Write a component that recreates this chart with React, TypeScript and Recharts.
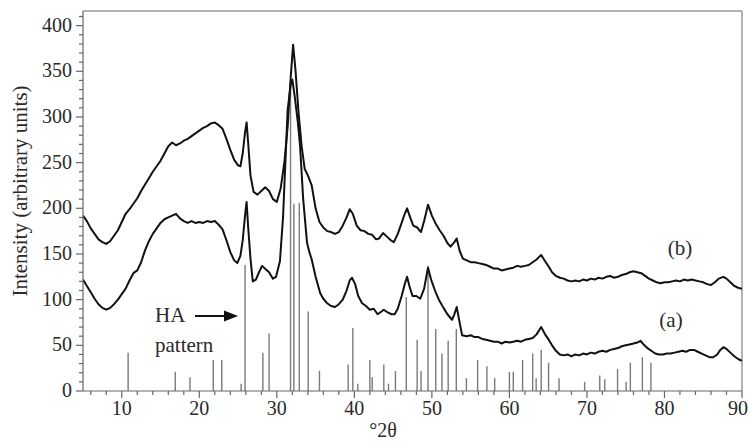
import { ComposedChart, Line, XAxis, YAxis, ReferenceLine } from "recharts"

// sample (b), upper trace: [°2θ, intensity]
const curveB: [number, number][] = [
  [5, 192], [5.5, 186], [6, 178], [6.5, 172], [7, 166], [7.5, 163], [8, 161], [8.5, 164], [9, 170], [9.5, 176],
  [10, 185], [10.5, 194], [11, 199], [11.5, 205], [12, 211], [12.5, 219], [13, 226], [13.5, 233], [14, 240], [14.5, 246],
  [15, 252], [15.5, 260], [16, 268], [16.5, 272], [17, 269], [17.5, 271], [18, 274], [18.5, 276], [19, 279], [19.5, 282],
  [20, 285], [20.5, 288], [21, 290], [21.5, 293], [22, 294], [22.5, 291], [23, 287], [23.5, 276], [24, 264], [24.5, 253],
  [25, 247], [25.3, 246], [25.6, 260], [25.9, 283], [26.1, 294], [26.3, 272], [26.6, 236], [27, 218], [27.5, 215], [28, 219],
  [28.5, 223], [29, 219], [29.5, 210], [30, 207], [30.5, 222], [31, 252], [31.4, 290], [31.8, 345], [32.1, 379], [32.4, 352],
  [32.8, 305], [33.2, 268], [33.6, 243], [34, 236], [34.5, 225], [35, 200], [35.5, 185], [36, 179], [36.5, 175], [37, 174],
  [37.5, 172], [38, 174], [38.5, 181], [39, 190], [39.4, 199], [39.8, 194], [40.3, 181], [40.8, 176], [41.3, 175], [41.8, 172],
  [42.3, 171], [42.8, 166], [43.2, 167], [43.7, 173], [44.2, 169], [44.7, 165], [45.1, 163], [45.6, 172], [46.1, 184], [46.5, 194],
  [46.8, 200], [47.2, 190], [47.6, 181], [48.1, 179], [48.6, 174], [49, 186], [49.5, 204], [50, 192], [50.5, 183], [51, 176],
  [51.5, 170], [52, 162], [52.4, 158], [52.9, 163], [53.2, 167], [53.6, 153], [54, 145], [54.5, 143], [55, 141], [55.5, 141],
  [56, 140], [56.5, 139], [57, 138], [57.5, 136], [58, 134], [58.5, 134], [59, 132], [59.5, 133], [60, 134], [60.5, 135],
  [61, 137], [61.5, 136], [62, 137], [62.5, 138], [63, 141], [63.5, 144], [64.1, 149], [64.6, 142], [65, 137], [65.5, 130],
  [66, 126], [66.5, 124], [67, 123], [67.5, 121], [68, 120], [68.5, 121], [69, 120], [69.5, 122], [70, 121], [70.5, 123],
  [71, 122], [71.5, 124], [72, 123], [72.5, 125], [73, 126], [73.5, 124], [74, 125], [74.5, 127], [75, 128], [75.5, 130],
  [76, 131], [76.5, 130], [77, 129], [77.5, 126], [78, 123], [78.5, 121], [79, 119], [79.5, 118], [80, 119], [80.5, 119],
  [81, 120], [81.5, 121], [82, 120], [82.5, 122], [83, 121], [83.5, 122], [84, 121], [84.5, 120], [85, 119], [85.5, 117],
  [86, 116], [86.5, 119], [87, 123], [87.6, 125], [88, 123], [88.5, 119], [89, 115], [89.5, 113], [90, 112],
]

// sample (a), lower trace
const curveA: [number, number][] = [
  [5, 122], [5.5, 115], [6, 108], [6.5, 101], [7, 95], [7.5, 91], [8, 89], [8.5, 91], [9, 95], [9.5, 100],
  [10, 106], [10.5, 112], [11, 121], [11.5, 129], [12, 132], [12.5, 141], [13, 154], [13.5, 164], [14, 172], [14.5, 178],
  [15, 184], [15.5, 188], [16, 190], [16.5, 192], [17, 194], [17.5, 189], [18, 186], [18.5, 184], [19, 186], [19.5, 184],
  [20, 185], [20.5, 184], [21, 186], [21.5, 185], [22, 186], [22.5, 182], [23, 177], [23.5, 165], [24, 152], [24.5, 143],
  [24.9, 140], [25.3, 148], [25.6, 165], [25.9, 192], [26.1, 207], [26.3, 180], [26.6, 145], [26.9, 120], [27.3, 122], [27.7, 130],
  [28.1, 137], [28.6, 133], [29, 130], [29.5, 123], [29.9, 125], [30.4, 142], [30.8, 190], [31.1, 250], [31.4, 308], [31.8, 336],
  [32, 341], [32.3, 323], [32.7, 295], [33, 268], [33.4, 210], [33.9, 162], [34.2, 152], [34.5, 144], [35, 125], [35.6, 107],
  [36, 101], [36.5, 96], [37, 93], [37.5, 92], [38, 95], [38.5, 100], [39, 110], [39.4, 121], [39.7, 124], [40.1, 117],
  [40.5, 104], [41, 96], [41.5, 93], [42, 89], [42.5, 90], [43, 84], [43.5, 87], [43.8, 89], [44.3, 86], [44.8, 84],
  [45.2, 84], [45.6, 90], [46.1, 104], [46.5, 117], [46.8, 125], [47.1, 115], [47.5, 104], [48, 104], [48.5, 101], [49, 112],
  [49.5, 135], [49.9, 122], [50.4, 110], [50.9, 100], [51.5, 91], [52, 84], [52.6, 78], [52.9, 84], [53.2, 92], [53.6, 74],
  [53.9, 61], [54.5, 60], [55, 61], [55.5, 59], [56, 59], [56.5, 57], [57, 56], [57.5, 55], [58, 54], [58.5, 54],
  [59, 52], [59.5, 54], [60, 53], [60.5, 54], [61, 55], [61.5, 54], [62, 56], [62.5, 57], [63, 58], [63.5, 62],
  [64.1, 70], [64.6, 62], [65, 57], [65.5, 50], [66, 44], [66.5, 40], [67, 39], [67.5, 40], [68, 38], [68.5, 40],
  [69, 39], [69.5, 41], [70, 40], [70.5, 42], [71, 41], [71.5, 43], [72, 44], [72.5, 43], [73, 45], [73.5, 46],
  [74, 47], [74.5, 49], [75, 50], [75.5, 51], [76, 52], [76.5, 53], [76.9, 55], [77.3, 51], [77.8, 47], [78.3, 44],
  [78.8, 41], [79.3, 40], [79.8, 40], [80.3, 41], [80.8, 41], [81.3, 42], [81.8, 43], [82.3, 44], [82.8, 43], [83.3, 45],
  [83.8, 45], [84.3, 43], [84.8, 41], [85.3, 39], [85.8, 37], [86.3, 37], [86.8, 40], [87.2, 45], [87.6, 48], [88, 46],
  [88.5, 42], [89, 38], [89.5, 35], [90, 33],
]

// HA reference pattern (stick lines)
const haPositions = [
  10.82, 16.9, 18.8, 21.8, 22.9, 25.4, 25.9, 28.2, 29.0, 31.77,
  32.2, 32.9, 34.05, 35.5, 39.2, 39.8, 40.45, 42.0, 42.3, 43.8,
  44.4, 45.3, 46.7, 48.1, 48.6, 49.5, 50.5, 51.3, 52.1, 53.15,
  54.45, 55.9, 57.1, 58.1, 60.0, 60.5, 61.7, 63.0, 63.45, 64.1,
  65.05, 66.4, 69.7, 71.65, 72.3, 73.95, 75.05, 75.6, 77.15, 78.25,
]
const haHeights = [
  42, 21, 15, 34, 34, 8, 138, 42, 63, 340,
  205, 206, 87, 22, 29, 69, 8, 34, 15, 29,
  8, 22, 103, 56, 22, 137, 68, 41, 55, 68,
  14, 34, 27, 14, 21, 21, 34, 41, 14, 45,
  31, 14, 10, 17, 13, 24, 10, 31, 37, 31,
]

const xTicks = [
  6, 8, 10, 12, 14, 16, 18, 20, 22, 24, 26, 28, 30, 32, 34, 36, 38, 40, 42, 44, 46, 48,
  50, 52, 54, 56, 58, 60, 62, 64, 66, 68, 70, 72, 74, 76, 78, 80, 82, 84, 86, 88, 90,
]
const yTicks = [
  0, 10, 20, 30, 40, 50, 60, 70, 80, 90, 100, 110, 120, 130, 140, 150, 160, 170, 180, 190, 200,
  210, 220, 230, 240, 250, 260, 270, 280, 290, 300, 310, 320, 330, 340, 350, 360, 370, 380, 390, 400, 410,
]

const AXIS = "#666"
const FRAME = "#9a9a9a"
const TEXT = "#2a2a2a"
// a single family name: a fallback list fell back to a sans face here
const FONT = "'Liberation Serif'"
const textStyle = { fontFamily: FONT }

const toRows = (pts: [number, number][]) => pts.map(([x, y]) => ({ x, y }))

function XTick({ x, y, payload }: any) {
  const major = payload.value % 10 === 0
  // the last label sits on the page edge, nudge it in a little
  const nudge = payload.value === 90 ? -4 : 0
  return (
    <g>
      <line x1={x} x2={x} y1={y} y2={y + (major ? 7 : 4)} stroke={AXIS} strokeWidth={1.2} />
      {major && (
        <text x={x + nudge} y={y + 24} textAnchor="middle" fontSize={20} fill={TEXT} style={textStyle}>
          {payload.value}
        </text>
      )}
    </g>
  )
}

function YTick({ x, y, payload }: any) {
  const major = payload.value % 50 === 0
  return (
    <g>
      <line x1={x} x2={x - (major ? 7 : 4)} y1={y} y2={y} stroke={AXIS} strokeWidth={1.2} />
      {major && (
        <text x={x - 11} y={y + 6} textAnchor="end" fontSize={20} fill={TEXT} style={textStyle}>
          {payload.value}
        </text>
      )}
    </g>
  )
}

export default function App() {
  return (
    <div style={{ position: "absolute", left: 0, top: 0, width: 750, height: 444, background: "#fff" }}>
      <ComposedChart width={750} height={444} margin={{ top: 11, right: 8, bottom: 0, left: 0 }}>
        <XAxis
          type="number"
          dataKey="x"
          domain={[5, 90]}
          ticks={xTicks}
          interval={0}
          tick={<XTick />}
          tickLine={false}
          tickSize={0}
          tickMargin={0}
          height={53}
          axisLine={{ stroke: AXIS, strokeWidth: 1.2 }}
          allowDataOverflow
        />
        <YAxis
          type="number"
          domain={[0, 416]}
          ticks={yTicks}
          interval={0}
          tick={<YTick />}
          tickLine={false}
          tickSize={0}
          tickMargin={0}
          width={83}
          axisLine={{ stroke: AXIS, strokeWidth: 1.2 }}
          allowDataOverflow
        />
        <ReferenceLine y={416} stroke={FRAME} strokeWidth={1.5} />
        <ReferenceLine x={90} stroke={FRAME} strokeWidth={1.5} />
        {haPositions.map((pos, i) => (
          <ReferenceLine
            key={pos}
            segment={[{ x: pos, y: 0 }, { x: pos, y: haHeights[i] }]}
            stroke="#7a7a7a"
            strokeWidth={1.4}
          />
        ))}
        <Line
          data={toRows(curveA)}
          dataKey="y"
          type="linear"
          stroke="#111"
          strokeWidth={2}
          strokeLinejoin="round"
          dot={false}
          isAnimationActive={false}
        />
        <Line
          data={toRows(curveB)}
          dataKey="y"
          type="linear"
          stroke="#111"
          strokeWidth={2}
          strokeLinejoin="round"
          dot={false}
          isAnimationActive={false}
        />
      </ComposedChart>
      <svg
        width={750}
        height={444}
        style={{ position: "absolute", left: 0, top: 0, pointerEvents: "none" }}
        fill={TEXT}
      >
        <text transform="translate(27,191) rotate(-90)" textAnchor="middle" fontSize={21} style={textStyle}>
          Intensity (arbitrary units)
        </text>
        <text x={383} y={437} textAnchor="middle" fontSize={20} style={textStyle}>°2θ</text>
        <text x={680} y={255} textAnchor="middle" fontSize={21} style={textStyle}>(b)</text>
        <text x={671} y={327} textAnchor="middle" fontSize={21} style={textStyle}>(a)</text>
        <text x={155} y={322} fontSize={21} style={textStyle}>HA</text>
        <text x={155} y={352} fontSize={21} style={textStyle}>pattern</text>
        <line x1={195} x2={226} y1={316} y2={316} stroke="#111" strokeWidth={2} />
        <polygon points="224,310.5 238,316 224,321.5" fill="#111" />
      </svg>
    </div>
  )
}
